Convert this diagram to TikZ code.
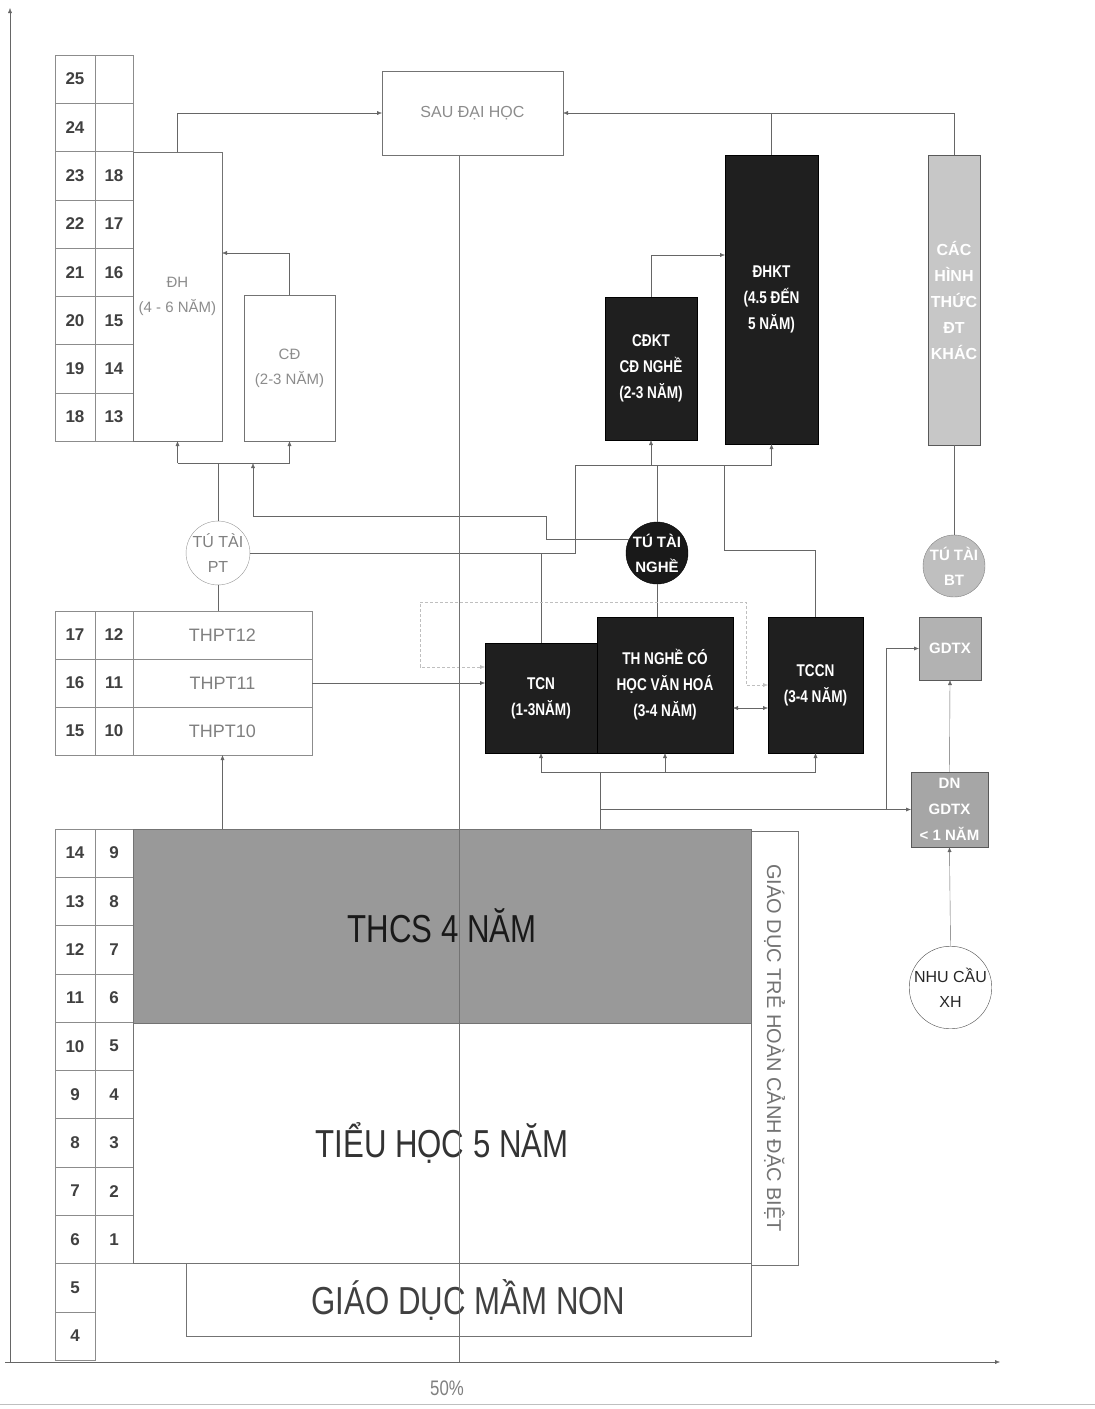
\documentclass[tikz,border=0pt]{standalone}
\usepackage{fontspec}
\setmainfont{Liberation Sans}
\newfontfamily\narrowfont[FakeStretch=0.8]{Liberation Sans}
\usepackage{tikz}
\usetikzlibrary{positioning, arrows.meta, calc}

\newcommand{\fsz}[2]{\fontsize{#1}{#2}\selectfont}

\begin{document}
\begin{tikzpicture}[
    x=1pt, y=-1pt,
    cell/.style={draw=black!45, minimum height=48.3pt, inner sep=0pt, outer sep=0pt, text=black!75, font=\bfseries\fsz{17}{17}},
    plainbox/.style={draw=black!55, fill=white, text=black!45, align=center, inner sep=0pt, outer sep=0pt, font=\fsz{15}{25}},
    darkbox/.style={draw=black, fill=black!88, text=white, align=center, inner sep=0pt, outer sep=0pt, font=\narrowfont\bfseries\fsz{17}{26}},
    greybox/.style={draw=black!65, thick, fill=black!28, text=white, align=center, inner sep=0pt, outer sep=0pt, font=\bfseries\fsz{15}{26}},
    ring/.style={circle, draw=black!55, inner sep=0pt, outer sep=0pt, minimum size=62pt, align=center, font=\fsz{16}{25}},
    bigtext/.style={font=\narrowfont\fsz{39}{39}},
    line/.style={draw=black!60},
    arrow/.style={draw=black!60, -{Latex[length=5pt, width=4pt]}},
    dblarrow/.style={draw=black!60, {Latex[length=5pt, width=4pt]}-{Latex[length=5pt, width=4pt]}},
    faint/.style={draw=black!25, densely dashed},
  ]
  \useasboundingbox (0,0) rectangle (1095,1409);

  % ---- Axes ----
  \coordinate (origin) at (10,1362);
  \coordinate (ytop) at (10,8);
  \coordinate (xend) at (1000,1362);
  \coordinate (mid) at (459,1362);
  \draw[arrow] (origin) -- (ytop);
  \draw[arrow] ([xshift=-5pt]origin) -- (xend);
  \node[text=black!50, font=\narrowfont\fsz{21}{21}] (pct) at (447,1388) {50\%};
  \draw[black!25] (0,1404) -- (1095,1404);

  % ---- Age grid: upper part ----
  \foreach \a/\b [count=\i from 0] in {25/,24/,23/18,22/17,21/16,20/15,19/14,18/13} {
    \node[cell, minimum width=40pt] (ua\i) at (75,{79+48.3*\i}) {\a};
    \node[cell, minimum width=38pt] (ub\i) at (114,{79+48.3*\i}) {\b};
  }

  % ---- Age grid: THPT rows ----
  \foreach \a/\b [count=\i from 0] in {17/12,16/11,15/10} {
    \node[cell, minimum width=40pt, minimum height=48pt] (ta\i) at (75,{635+48*\i}) {\a};
    \node[cell, minimum width=38pt, minimum height=48pt] (tb\i) at (114,{635+48*\i}) {\b};
    \node[cell, minimum width=179pt, minimum height=48pt, font=\fsz{18}{18}, text=black!50] (thpt\b) at (222.5,{635+48*\i}) {THPT\b};
  }

  % ---- Age grid: lower part ----
  \foreach \a/\b [count=\i from 0] in {14/9,13/8,12/7,11/6,10/5,9/4,8/3,7/2,6/1} {
    \node[cell, minimum width=40pt] (la\i) at (75,{853+48.3*\i}) {\a};
    \node[cell, minimum width=38pt] (lb\i) at (114,{853+48.3*\i}) {\b};
  }
  \foreach \a [count=\i from 9] in {5,4} {
    \node[cell, minimum width=40pt] (la\i) at (75,{853+48.3*\i}) {\a};
  }

  % ---- Higher education ----
  \node[plainbox, minimum width=181pt, minimum height=84pt, font=\fsz{16}{16}] (sau) at (472.5,113) {SAU ĐẠI HỌC};
  \node[plainbox, minimum width=89pt, minimum height=289pt] (dh) at (177.5,296.5) {ĐH\\(4 - 6 NĂM)};
  \node[plainbox, minimum width=91pt, minimum height=146pt] (cd) at (289.5,368) {CĐ\\(2-3 NĂM)};
  \node[darkbox, minimum width=93pt, minimum height=289pt] (dhkt) at (771.5,299.5) {ĐHKT\\(4.5 ĐẾN\\5 NĂM)};
  \node[darkbox, minimum width=92pt, minimum height=143pt] (cdkt) at (651,368.5) {CĐKT\\CĐ NGHỀ\\(2-3 NĂM)};
  \node[greybox, minimum width=52pt, minimum height=290pt, fill=black!22, font=\bfseries\fsz{16}{26}] (khac) at (954,300) {CÁC\\HÌNH\\THỨC\\ĐT\\KHÁC};

  % ---- Diplomas ----
  \node[ring, fill=white, text=black!50, draw=black!40] (tpt) at (218,553) {TÚ TÀI\\PT};
  \node[ring, fill=black!90, draw=black, text=white, font=\bfseries\fsz{15}{25}] (ttn) at (657,553) {TÚ TÀI\\NGHỀ};
  \node[ring, fill=black!25, draw=black!50, text=white, font=\bfseries\fsz{15}{25}] (tbt) at (954,566) {TÚ TÀI\\BT};

  % ---- Vocational ----
  \node[darkbox, minimum width=112pt, minimum height=110pt] (tcn) at (541,698) {TCN\\(1-3NĂM)};
  \node[darkbox, minimum width=136pt, minimum height=136pt] (thn) at (665,685) {TH NGHỀ CÓ\\HỌC VĂN HOÁ\\(3-4 NĂM)};
  \node[darkbox, minimum width=95pt, minimum height=136pt] (tccn) at (815.5,685) {TCCN\\(3-4 NĂM)};

  % ---- Continuing education ----
  \node[greybox, minimum width=62pt, minimum height=63pt, fill=black!30] (gdtx) at (950,648.5) {GDTX};
  \node[greybox, minimum width=77pt, minimum height=75pt, fill=black!35] (dn) at (949.5,809.5) {DN\\GDTX\\< 1 NĂM};
  \node[ring, minimum size=77pt, fill=white, draw=black!70, text=black!85] (nhucau) at (950.5,987.5) {NHU CẦU\\XH};

  % ---- Basic education ----
  \node[plainbox, minimum width=618pt, minimum height=194pt, fill=black!40, text=black!90, bigtext] (thcs) at (442,926) {THCS 4 NĂM};
  \node[plainbox, minimum width=618pt, minimum height=240pt, text=black!80, bigtext] (tieuhoc) at (442,1143) {TIỂU HỌC 5 NĂM};
  \node[plainbox, minimum width=565pt, minimum height=73pt, text=black!75, bigtext] (mamnon) at (468.5,1299.5) {GIÁO DỤC MẦM NON};
  \node[plainbox, rotate=-90, minimum width=434pt, minimum height=47pt, text=black!55, font=\fsz{20}{20}] (dacbiet) at (774.5,1048) {GIÁO DỤC TRẺ HOÀN CẢNH ĐẶC BIỆT};

  % ---- Arrows into higher education ----
  \draw[arrow] (dh.north) |- (sau.west);
  \draw[arrow] (khac.north) |- (sau.east);
  \draw[line] (dhkt.north) -- (dhkt.north |- sau.east);
  \draw[arrow] (cd.north) |- ([yshift=43.5pt]dh.east);
  \draw[arrow] (cdkt.north) |- ([yshift=44.5pt]dhkt.west);

  % ---- Bus below ĐH / CĐ ----
  \coordinate (busL) at (218,463);
  \draw[line] (dh.south |- busL) -- (cd.south |- busL);
  \draw[arrow] (dh.south |- busL) -- (dh.south);
  \draw[arrow] (cd.south |- busL) -- (cd.south);
  \draw[line] (tpt.north) -- (busL);
  \draw[line] (tpt.south) -- (tpt.south |- thpt12.north);
  \draw[arrow] (thpt10.south |- thcs.north) -- (thpt10.south);

  % ---- Bus below CĐKT / ĐHKT ----
  \coordinate (busR) at (575,465);
  \coordinate (j1) at (724,550);
  \coordinate (c1) at (546,516);
  \coordinate (cdIn) at (253,463);
  \draw[line] (tpt.east) -| (busR);
  \draw[line] (busR) -- (dhkt.south |- busR);
  \draw[arrow] (cdkt.south |- busR) -- (cdkt.south);
  \draw[arrow] (dhkt.south |- busR) -- (dhkt.south);
  \draw[line] (tcn.north) -- (tcn.north |- tpt.east);
  \draw[line] (ttn.north) -- (ttn.north |- busR);
  \draw[line] (ttn.south) -- (ttn.south |- thn.north);
  \draw[line] (tccn.north) |- (j1) -- (j1 |- busR);
  \draw[arrow] (ttn.153) -| (c1) -| (cdIn);
  \draw[line] (khac.south) -- (tbt.north);

  % ---- Into vocational ----
  \draw[arrow] (thpt11.east) -- (thpt11.east -| tcn.west);
  \draw[dblarrow] ([yshift=-23pt]thn.east) -- ([yshift=-23pt]tccn.west);
  \coordinate (f1) at (420,602);
  \coordinate (f2) at (746,602);
  \draw[faint, {Latex[length=5pt, width=4pt]}-{Latex[length=5pt, width=4pt]}] ([yshift=31pt]tcn.west) -| (f1) -- (f2) |- (tccn.west);

  % ---- Bus below vocational ----
  \coordinate (busB) at (600,772);
  \coordinate (split) at (886,809.5);
  \draw[line] (tcn.south |- busB) -- (tccn.south |- busB);
  \draw[arrow] (tcn.south |- busB) -- (tcn.south);
  \draw[arrow] (thn.south |- busB) -- (thn.south);
  \draw[arrow] (tccn.south |- busB) -- (tccn.south);
  \draw[line] (thcs.north -| busB) -- (busB);
  \draw[arrow] (dn.west -| busB) -- (dn.west);
  \draw[arrow] (split) |- (gdtx.west);
  \draw[arrow] (dn.north) -- (gdtx.south);
  \draw[arrow] (nhucau.north) -- (dn.south);

  % ---- 50% line ----
  \draw[black!55] (sau.south -| mid) -- (mid);

\end{tikzpicture}
\end{document}
